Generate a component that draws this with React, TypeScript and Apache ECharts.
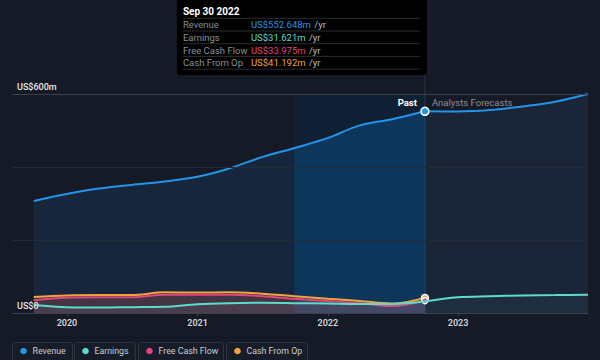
import React, { useEffect, useRef } from "react";
import * as echarts from "echarts";

const pastDates = ["2019-09-30", "2019-12-31", "2020-03-31", "2020-06-30", "2020-09-30", "2020-12-31", "2021-03-31", "2021-06-30", "2021-09-30", "2021-12-31", "2022-03-31", "2022-06-30", "2022-09-30"];
const revenuePast = [307, 326, 341, 351, 360, 373, 396, 427, 452, 479, 514, 531, 552.648];
const earningsPast = [22, 16, 15, 16, 17, 24, 27, 28, 27, 26, 25, 25, 31.621];
const fcfPast = [35, 42, 43, 43, 50, 50, 50, 46, 39, 33, 27, 19, 33.975];
const cfoPast = [44, 48, 49, 49, 57, 56, 57, 53, 46, 39, 33, 26, 41.192];

const forecastDates = ["2022-09-30", "2022-12-31", "2023-03-31", "2023-06-30", "2023-09-30", "2023-12-31"];
const revenueForecast = [552.648, 552, 556, 566, 579, 600];
const earningsForecast = [31.621, 43, 46, 48, 49, 50];

const bandStart = "2021-09-30";
const bandEnd = "2022-09-30";
const tooltipTitle = "Sep 30 2022";
const legendNames = ["Revenue", "Earnings", "Free Cash Flow", "Cash From Op"];
const yTicks = { min: 0, max: 600, interval: 200 };

const C = {
  bg: "#151a26",
  revenue: "#2394e8",
  earnings: "#5cdccb",
  fcf: "#e0457b",
  cfo: "#f2a33d",
};
const FONT = 'Roboto, "Noto Sans", sans-serif';

function pairs(dates: string[], vals: number[], endSym?: { color: string; size: number }) {
  return dates.map((d, i) => {
    if (endSym && i === dates.length - 1) {
      return {
        value: [d, vals[i]],
        symbol: "circle",
        symbolSize: endSym.size,
        itemStyle: { color: endSym.color, borderColor: "#ffffff", borderWidth: 1.5 },
      };
    }
    return [d, vals[i]];
  });
}

export default function App() {
  const ref = useRef<HTMLDivElement>(null);
  useEffect(() => {
    if (!ref.current) return;
    const chart = echarts.init(ref.current, null, { renderer: "svg" });
    const frac = 0.6667;
    const pastArea = new echarts.graphic.LinearGradient(0, 0, 1, 0, [
      { offset: 0, color: "rgba(30,120,210,0.18)" },
      { offset: frac - 0.0005, color: "rgba(30,120,210,0.18)" },
      { offset: frac, color: "rgba(0,120,210,0.36)" },
      { offset: 1, color: "rgba(0,120,210,0.36)" },
    ]);
    const lineBase = {
      type: "line",
      smooth: 0.35,
      symbol: "none",
      showSymbol: true,
      silent: true,
    };
    chart.setOption({
      animation: false,
      backgroundColor: C.bg,
      textStyle: { fontFamily: FONT },
      grid: { left: 12, right: 12, top: 94, bottom: 47, containLabel: false },
      xAxis: {
        type: "time",
        min: "2019-07-31",
        max: "2023-12-31",
        minInterval: 365 * 86400000,
        maxInterval: 366 * 86400000,
        axisLine: { show: true, lineStyle: { color: "#3b404b", width: 1 } },
        axisTick: { show: true, length: 3, lineStyle: { color: "#3b404b" } },
        splitLine: { show: false },
        axisLabel: {
          color: "#d3d6db",
          fontSize: 9,
          fontWeight: 600,
          fontFamily: FONT,
          margin: 5,
          formatter: (v: number) => String(new Date(v).getFullYear()),
        },
      },
      yAxis: {
        type: "value",
        min: yTicks.min,
        max: yTicks.max,
        interval: yTicks.interval,
        axisLine: { show: false },
        axisTick: { show: false },
        splitLine: {
          show: true,
          lineStyle: { color: ["rgba(0,0,0,0)", "#242a36", "#242a36", "#3a404c"], width: 1 },
        },
        axisLabel: {
          inside: true,
          margin: 5,
          verticalAlign: "bottom",
          padding: [0, 0, 3, 0],
          color: "#e6e8eb",
          fontSize: 9,
          fontWeight: 500,
          fontFamily: FONT,
          formatter: (v: number) => (v === yTicks.max ? "US$600m" : v === 0 ? "US$0" : ""),
        },
        z: 5,
      },
      series: [
        {
          ...lineBase,
          name: "Revenue",
          data: pairs(pastDates, revenuePast, { color: C.revenue, size: 8 }),
          lineStyle: { color: C.revenue, width: 2 },
          itemStyle: { color: C.revenue },
          areaStyle: { color: pastArea },
          markArea: {
            silent: true,
            itemStyle: { color: "rgba(0,60,110,0.2)" },
            data: [[{ xAxis: bandStart }, { xAxis: bandEnd }]],
          },
          z: 2,
        },
        {
          ...lineBase,
          name: "Revenue Forecast",
          data: pairs(forecastDates, revenueForecast),
          lineStyle: { color: C.revenue, width: 2 },
          itemStyle: { color: C.revenue },
          areaStyle: { color: "rgba(60,110,160,0.2)" },
          z: 2,
        },
        {
          ...lineBase,
          name: "Cash From Op",
          data: pairs(pastDates, cfoPast, { color: C.cfo, size: 7 }),
          lineStyle: { color: C.cfo, width: 2 },
          itemStyle: { color: C.cfo },
          areaStyle: { color: "rgba(240,160,70,0.16)" },
          z: 3,
        },
        {
          ...lineBase,
          name: "Free Cash Flow",
          data: pairs(pastDates, fcfPast, { color: C.fcf, size: 6 }),
          lineStyle: { color: C.fcf, width: 2 },
          itemStyle: { color: C.fcf },
          areaStyle: { color: "rgba(224,69,123,0.18)" },
          z: 3,
        },
        {
          ...lineBase,
          name: "Earnings",
          data: pairs(pastDates, earningsPast),
          lineStyle: { color: C.earnings, width: 2 },
          itemStyle: { color: C.earnings },
          areaStyle: { color: "rgba(150,170,190,0.12)" },
          z: 4,
        },
        {
          ...lineBase,
          name: "Earnings Forecast",
          data: pairs(forecastDates, earningsForecast),
          lineStyle: { color: C.earnings, width: 2 },
          itemStyle: { color: C.earnings },
          areaStyle: { color: "rgba(100,150,170,0.1)" },
          z: 4,
        },
      ],
    });

    // Overlay elements anchored to the last actual data point
    const last = pastDates.length - 1;
    const t = echarts.time.parse(pastDates[last]).getTime();
    const pt = chart.convertToPixel({ gridIndex: 0 }, [t, revenuePast[last]]) as number[];
    const bottom = (chart.convertToPixel({ gridIndex: 0 }, [t, 0]) as number[])[1];
    const top = (chart.convertToPixel({ gridIndex: 0 }, [t, yTicks.max]) as number[])[1];
    const px = pt[0];
    const boxW = 250;
    const boxR = px + 2;
    const boxL = boxR - boxW;
    const boxB = 75;

    const rows = [
      { label: legendNames[0], value: revenuePast[last], color: C.revenue },
      { label: legendNames[1], value: earningsPast[last], color: C.earnings },
      { label: legendNames[2], value: fcfPast[last], color: C.fcf },
      { label: legendNames[3], value: cfoPast[last], color: C.cfo },
    ];

    const g: any[] = [];
    g.push({
      type: "line",
      silent: true,
      shape: { x1: px, y1: boxB, x2: px, y2: bottom },
      style: { stroke: "rgba(255,255,255,0.12)", lineWidth: 1 },
      z: 1,
    });
    g.push({
      type: "rect",
      silent: true,
      shape: { x: boxL, y: -4, width: boxW, height: boxB + 4, r: 3 },
      style: { fill: "#000000" },
      z: 10,
    });
    g.push({
      type: "text",
      silent: true,
      x: boxL + 6,
      y: 11.5,
      style: { text: tooltipTitle, fill: "#ffffff", font: `bold 10px ${FONT}`, verticalAlign: "middle" },
      z: 11,
    });
    const sepYs = [18.3, 31, 43.7, 56.4, 69.2];
    sepYs.forEach((y) =>
      g.push({
        type: "line",
        silent: true,
        shape: { x1: boxL + 6, y1: y, x2: boxR - 7, y2: y },
        style: { stroke: "#2a2c30", lineWidth: 1 },
        z: 11,
      })
    );
    rows.forEach((r, i) => {
      const y = 24.6 + i * 12.7;
      g.push({
        type: "text",
        silent: true,
        x: boxL + 6,
        y,
        style: { text: r.label, fill: "#8a8e96", font: `9.5px ${FONT}`, verticalAlign: "middle" },
        z: 11,
      });
      g.push({
        type: "text",
        silent: true,
        x: boxL + 74,
        y,
        style: {
          text: `{v|US$${r.value.toFixed(3)}m} {u|/yr}`,
          verticalAlign: "middle",
          rich: {
            v: { fill: r.color, fontSize: 9.5, fontFamily: FONT },
            u: { fill: "#b9bdc4", fontSize: 9.5, fontFamily: FONT },
          },
        },
        z: 11,
      });
    });
    g.push({
      type: "text",
      silent: true,
      x: px - 8,
      y: top + 8,
      style: { text: "Past", fill: "#ffffff", font: `bold 9.5px ${FONT}`, align: "right", verticalAlign: "middle" },
      z: 11,
    });
    g.push({
      type: "text",
      silent: true,
      x: px + 7,
      y: top + 8,
      style: { text: "Analysts Forecasts", fill: "#8a8f99", font: `9.5px ${FONT}`, align: "left", verticalAlign: "middle" },
      z: 11,
    });

    // Legend chips
    const legendColors = [C.revenue, C.earnings, C.fcf, C.cfo];
    const chipX = [12, 74, 138, 226];
    const chipW = [60, 61, 85, 81];
    legendNames.forEach((n, i) => {
      g.push({
        type: "rect",
        silent: true,
        shape: { x: chipX[i] + 0.5, y: 342.5, width: chipW[i], height: 24, r: 3 },
        style: { fill: "#161c28", stroke: "#2e3441", lineWidth: 1 },
        z: 10,
      });
      g.push({
        type: "circle",
        silent: true,
        shape: { cx: chipX[i] + 11.5, cy: 351, r: 3.3 },
        style: { fill: legendColors[i] },
        z: 11,
      });
      g.push({
        type: "text",
        silent: true,
        x: chipX[i] + 20.5,
        y: 351,
        style: { text: n, fill: "#c9ccd2", font: `8.8px ${FONT}`, verticalAlign: "middle" },
        z: 11,
      });
    });

    chart.setOption({ graphic: g });

    return () => chart.dispose();
  }, []);

  return <div ref={ref} style={{ width: 600, height: 360, position: "absolute", left: 0, top: 0 }} />;
}
